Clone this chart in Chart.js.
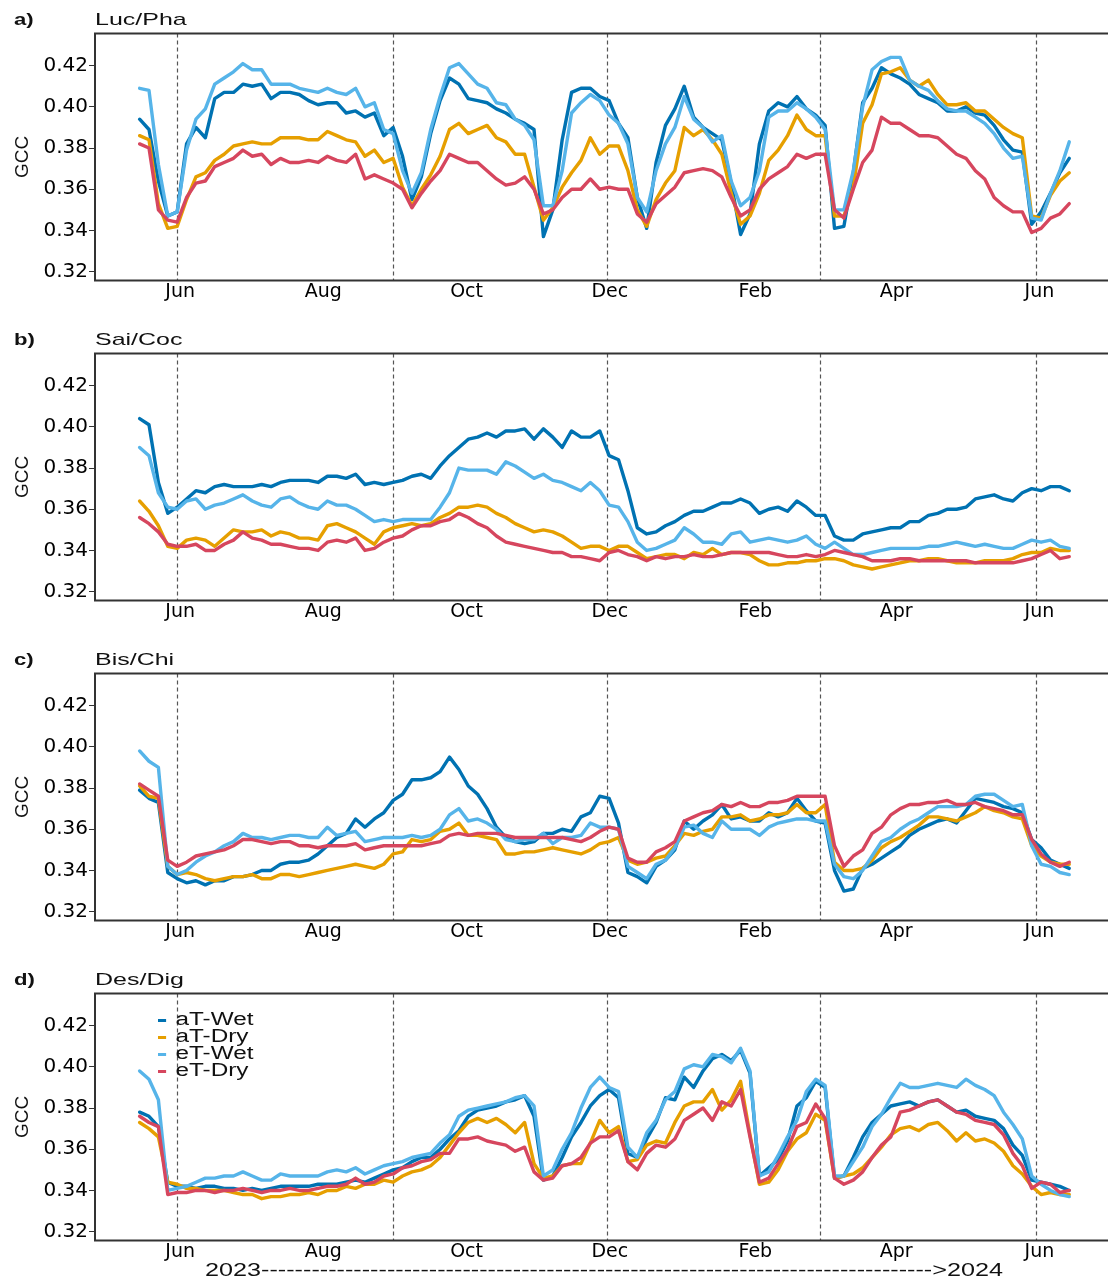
<!DOCTYPE html>
<html>
<head>
<meta charset="utf-8">
<script src="https://cdn.jsdelivr.net/npm/chart.js@4.4.1/dist/chart.umd.min.js"></script>
<style>
  html, body { margin: 0; padding: 0; background: #fff; }
  #fig { position: relative; width: 1108px; height: 1278px; overflow: hidden;
         font-family: "Liberation Sans", Arial, sans-serif; color: #111; }
  .panel { position: absolute; left: 0; width: 1108px; height: 320px; }
  .panel canvas { position: absolute; left: 0; top: 0; }
  .txt { position: absolute; white-space: nowrap; transform-origin: 0 50%; line-height: 20px; }
  .tag { font-weight: bold; font-size: 17px; }
  .ttl { font-size: 17px; }
  .legend { position: absolute; left: 158px; top: 51px; font-size: 18px; line-height: 17px; }
  .legend .row { white-space: nowrap; transform-origin: 0 50%; }
  .legend .key { display: inline-block; width: 6px; height: 3px; vertical-align: middle; margin-right: 7px; }
  .years { font-size: 18px; }
</style>
</head>
<body>
<div id="fig"></div>
<script>
// Daily GCC time series, sampled every 4 days; offsets are days from 1 Jun 2023.
const dayOffsets = [-16,-12,-8,-4,0,4,8,12,16,20,24,28,32,36,40,44,48,52,56,60,
  64,68,72,76,80,84,88,92,96,100,104,108,112,116,120,124,128,132,136,140,
  144,148,152,156,160,164,168,172,176,180,184,188,192,196,200,204,208,212,216,220,
  224,228,232,236,240,244,248,252,256,260,264,268,272,276,280,284,288,292,296,300,
  304,308,312,316,320,324,328,332,336,340,344,348,352,356,360,364,368,372,376,380];

const monthTickDays = [0, 61, 122, 183, 245, 305, 366];
const monthTickLabels = ['Jun', 'Aug', 'Oct', 'Dec', 'Feb', 'Apr', 'Jun'];
const seasonLineDays = [0, 92, 183, 274, 366];
const gccTicks = [0.32, 0.34, 0.36, 0.38, 0.40, 0.42];
const treatmentNames = ['aT-Wet', 'aT-Dry', 'eT-Wet', 'eT-Dry'];
const treatmentColors = ['#0072B2', '#E69F00', '#56B4E9', '#D6465E'];

// a) Luc/Pha
const lucAtWet = [0.394,0.389,0.364,0.347,0.349,0.382,0.390,0.385,0.404,0.407,
  0.407,0.411,0.410,0.411,0.404,0.407,0.407,0.406,0.403,0.401,
  0.402,0.402,0.397,0.398,0.395,0.397,0.386,0.390,0.376,0.355,
  0.366,0.387,0.403,0.414,0.411,0.404,0.403,0.402,0.399,0.397,
  0.394,0.392,0.389,0.337,0.350,0.384,0.407,0.409,0.409,0.405,
  0.403,0.392,0.385,0.356,0.341,0.373,0.391,0.399,0.410,0.395,
  0.390,0.387,0.384,0.363,0.338,0.348,0.382,0.398,0.402,0.400,
  0.405,0.399,0.396,0.391,0.341,0.342,0.368,0.402,0.409,0.419,
  0.416,0.414,0.411,0.406,0.404,0.402,0.398,0.398,0.400,0.397,
  0.396,0.391,0.384,0.379,0.378,0.343,0.349,0.358,0.368,0.375];
const lucAtDry = [0.386,0.384,0.353,0.341,0.342,0.355,0.366,0.368,0.374,0.377,
  0.381,0.382,0.383,0.382,0.382,0.385,0.385,0.385,0.384,0.384,
  0.388,0.386,0.384,0.383,0.376,0.379,0.373,0.375,0.361,0.352,
  0.360,0.367,0.376,0.389,0.392,0.387,0.389,0.391,0.385,0.383,
  0.377,0.377,0.361,0.345,0.351,0.361,0.368,0.374,0.385,0.377,
  0.381,0.381,0.369,0.350,0.342,0.355,0.363,0.369,0.390,0.386,
  0.389,0.384,0.377,0.358,0.343,0.347,0.358,0.374,0.379,0.386,
  0.396,0.389,0.386,0.386,0.347,0.347,0.361,0.392,0.401,0.416,
  0.417,0.419,0.413,0.410,0.413,0.406,0.401,0.401,0.402,0.398,
  0.398,0.394,0.390,0.387,0.385,0.347,0.346,0.357,0.364,0.368];
const lucEtWet = [0.409,0.408,0.372,0.347,0.349,0.379,0.394,0.399,0.411,0.414,
  0.417,0.421,0.418,0.418,0.411,0.411,0.411,0.409,0.408,0.407,
  0.409,0.407,0.406,0.409,0.400,0.402,0.389,0.387,0.369,0.358,
  0.368,0.389,0.405,0.419,0.421,0.416,0.411,0.409,0.402,0.401,
  0.394,0.391,0.384,0.352,0.352,0.369,0.397,0.402,0.406,0.403,
  0.396,0.392,0.382,0.356,0.349,0.369,0.382,0.390,0.405,0.394,
  0.390,0.383,0.386,0.364,0.352,0.356,0.369,0.395,0.398,0.398,
  0.402,0.399,0.395,0.389,0.350,0.350,0.369,0.400,0.418,0.422,
  0.424,0.424,0.413,0.410,0.408,0.403,0.399,0.398,0.398,0.395,
  0.392,0.387,0.380,0.375,0.376,0.346,0.345,0.358,0.369,0.383];
const lucEtDry = [0.382,0.380,0.350,0.345,0.344,0.356,0.363,0.364,0.371,0.373,
  0.375,0.379,0.376,0.377,0.372,0.375,0.373,0.373,0.374,0.373,
  0.376,0.374,0.373,0.377,0.365,0.367,0.365,0.363,0.360,0.351,
  0.358,0.364,0.369,0.377,0.375,0.373,0.373,0.369,0.365,0.362,
  0.363,0.366,0.360,0.348,0.350,0.356,0.360,0.360,0.365,0.360,
  0.361,0.360,0.360,0.348,0.344,0.353,0.357,0.361,0.368,0.369,
  0.370,0.369,0.366,0.356,0.347,0.350,0.360,0.365,0.368,0.371,
  0.377,0.375,0.377,0.377,0.350,0.346,0.360,0.373,0.379,0.395,
  0.392,0.392,0.389,0.386,0.386,0.385,0.381,0.377,0.375,0.369,
  0.365,0.356,0.352,0.349,0.349,0.339,0.341,0.346,0.348,0.353];

// b) Sai/Coc
const saiAtWet = [0.404,0.401,0.373,0.358,0.361,0.365,0.369,0.368,0.371,0.372,
  0.371,0.371,0.371,0.372,0.371,0.373,0.374,0.374,0.374,0.373,
  0.376,0.376,0.375,0.377,0.372,0.373,0.372,0.373,0.374,0.376,
  0.377,0.375,0.381,0.386,0.390,0.394,0.395,0.397,0.395,0.398,
  0.398,0.399,0.394,0.399,0.395,0.390,0.398,0.395,0.395,0.398,
  0.386,0.384,0.369,0.351,0.348,0.349,0.352,0.354,0.357,0.359,
  0.359,0.361,0.363,0.363,0.365,0.363,0.358,0.360,0.361,0.359,
  0.364,0.361,0.357,0.357,0.347,0.345,0.345,0.348,0.349,0.350,
  0.351,0.351,0.354,0.354,0.357,0.358,0.360,0.360,0.361,0.365,
  0.366,0.367,0.365,0.364,0.368,0.370,0.369,0.371,0.371,0.369];
const saiAtDry = [0.364,0.359,0.352,0.342,0.341,0.345,0.346,0.345,0.342,0.346,
  0.350,0.349,0.349,0.350,0.347,0.349,0.348,0.346,0.346,0.345,
  0.352,0.353,0.351,0.349,0.346,0.343,0.349,0.351,0.352,0.353,
  0.352,0.353,0.356,0.358,0.361,0.361,0.362,0.361,0.358,0.356,
  0.353,0.351,0.349,0.350,0.349,0.347,0.344,0.341,0.342,0.342,
  0.340,0.342,0.342,0.339,0.336,0.337,0.338,0.338,0.336,0.339,
  0.338,0.341,0.338,0.339,0.339,0.338,0.335,0.333,0.333,0.334,
  0.334,0.335,0.335,0.336,0.336,0.335,0.333,0.332,0.331,0.332,
  0.333,0.334,0.335,0.335,0.336,0.336,0.335,0.334,0.334,0.334,
  0.335,0.335,0.335,0.336,0.338,0.339,0.339,0.341,0.340,0.340];
const saiEtWet = [0.390,0.386,0.368,0.361,0.360,0.364,0.365,0.360,0.362,0.363,
  0.365,0.367,0.364,0.362,0.361,0.365,0.366,0.363,0.361,0.360,
  0.364,0.362,0.362,0.360,0.357,0.354,0.355,0.354,0.355,0.355,
  0.355,0.355,0.361,0.368,0.380,0.379,0.379,0.379,0.377,0.383,
  0.381,0.378,0.375,0.377,0.374,0.373,0.371,0.369,0.373,0.369,
  0.362,0.361,0.354,0.344,0.340,0.341,0.343,0.345,0.351,0.348,
  0.344,0.344,0.343,0.348,0.349,0.344,0.345,0.346,0.345,0.344,
  0.345,0.347,0.343,0.341,0.344,0.341,0.338,0.338,0.339,0.340,
  0.341,0.341,0.341,0.341,0.342,0.342,0.343,0.344,0.343,0.342,
  0.343,0.342,0.341,0.341,0.343,0.345,0.344,0.345,0.342,0.341];
const saiEtDry = [0.356,0.353,0.349,0.343,0.342,0.342,0.343,0.340,0.340,0.343,
  0.345,0.349,0.346,0.345,0.343,0.343,0.342,0.341,0.341,0.340,
  0.344,0.345,0.344,0.346,0.340,0.341,0.344,0.346,0.347,0.350,
  0.352,0.352,0.354,0.355,0.358,0.356,0.353,0.351,0.347,0.344,
  0.343,0.342,0.341,0.340,0.339,0.339,0.337,0.337,0.336,0.335,
  0.339,0.340,0.338,0.337,0.335,0.337,0.336,0.337,0.337,0.338,
  0.337,0.337,0.338,0.339,0.339,0.339,0.339,0.339,0.338,0.337,
  0.337,0.338,0.337,0.338,0.340,0.339,0.338,0.337,0.335,0.335,
  0.335,0.336,0.336,0.335,0.335,0.335,0.335,0.335,0.335,0.334,
  0.334,0.334,0.334,0.334,0.335,0.336,0.338,0.340,0.336,0.337];

// c) Bis/Chi
const bisAtWet = [0.379,0.375,0.373,0.339,0.336,0.334,0.335,0.333,0.335,0.335,
  0.337,0.337,0.338,0.340,0.340,0.343,0.344,0.344,0.345,0.348,
  0.352,0.356,0.358,0.365,0.361,0.365,0.368,0.374,0.377,0.384,
  0.384,0.385,0.388,0.395,0.389,0.381,0.377,0.370,0.361,0.356,
  0.354,0.353,0.354,0.358,0.358,0.360,0.359,0.366,0.368,0.376,
  0.375,0.363,0.339,0.337,0.334,0.342,0.345,0.350,0.364,0.360,
  0.364,0.367,0.372,0.365,0.366,0.364,0.364,0.368,0.366,0.368,
  0.375,0.369,0.364,0.363,0.340,0.330,0.331,0.341,0.343,0.346,
  0.349,0.352,0.357,0.360,0.362,0.364,0.365,0.363,0.369,0.375,
  0.374,0.373,0.371,0.370,0.368,0.355,0.351,0.345,0.343,0.341];
const bisAtDry = [0.381,0.376,0.375,0.342,0.338,0.339,0.338,0.336,0.335,0.336,
  0.337,0.337,0.338,0.336,0.336,0.338,0.338,0.337,0.338,0.339,
  0.340,0.341,0.342,0.343,0.342,0.341,0.343,0.348,0.349,0.355,
  0.354,0.355,0.359,0.360,0.363,0.357,0.357,0.356,0.355,0.348,
  0.348,0.349,0.349,0.350,0.351,0.350,0.349,0.348,0.350,0.353,
  0.354,0.356,0.345,0.343,0.344,0.346,0.347,0.352,0.358,0.357,
  0.359,0.360,0.366,0.366,0.367,0.364,0.365,0.367,0.367,0.368,
  0.372,0.368,0.368,0.372,0.344,0.340,0.340,0.341,0.345,0.351,
  0.354,0.356,0.359,0.362,0.366,0.366,0.365,0.364,0.366,0.368,
  0.371,0.369,0.368,0.366,0.365,0.352,0.347,0.344,0.343,0.343];
const bisEtWet = [0.398,0.393,0.390,0.342,0.338,0.340,0.344,0.347,0.349,0.352,
  0.354,0.358,0.356,0.356,0.355,0.356,0.357,0.357,0.356,0.356,
  0.361,0.357,0.358,0.359,0.354,0.355,0.356,0.356,0.356,0.357,
  0.356,0.357,0.360,0.367,0.370,0.364,0.365,0.363,0.360,0.355,
  0.354,0.355,0.355,0.358,0.353,0.356,0.356,0.357,0.363,0.361,
  0.361,0.360,0.342,0.339,0.336,0.343,0.345,0.351,0.361,0.362,
  0.358,0.356,0.364,0.360,0.360,0.360,0.357,0.361,0.363,0.364,
  0.365,0.365,0.364,0.364,0.343,0.337,0.336,0.340,0.347,0.354,
  0.356,0.360,0.363,0.365,0.368,0.371,0.371,0.371,0.372,0.376,
  0.377,0.377,0.374,0.371,0.372,0.352,0.343,0.342,0.339,0.338];
const bisEtDry = [0.382,0.379,0.376,0.345,0.342,0.344,0.347,0.348,0.349,0.350,
  0.352,0.355,0.355,0.354,0.353,0.354,0.354,0.352,0.352,0.351,
  0.352,0.352,0.352,0.353,0.350,0.351,0.352,0.352,0.352,0.352,
  0.352,0.353,0.354,0.357,0.358,0.357,0.358,0.358,0.358,0.357,
  0.356,0.356,0.356,0.356,0.356,0.356,0.355,0.354,0.356,0.359,
  0.361,0.360,0.346,0.344,0.344,0.349,0.351,0.354,0.364,0.366,
  0.368,0.369,0.372,0.371,0.373,0.371,0.371,0.373,0.373,0.374,
  0.376,0.376,0.376,0.376,0.352,0.342,0.347,0.350,0.358,0.361,
  0.367,0.370,0.372,0.372,0.373,0.373,0.374,0.372,0.372,0.373,
  0.371,0.370,0.369,0.367,0.367,0.355,0.348,0.344,0.342,0.344];

// d) Des/Dig
const desAtWet = [0.378,0.376,0.371,0.344,0.342,0.342,0.341,0.342,0.342,0.341,
  0.341,0.340,0.341,0.340,0.341,0.342,0.342,0.342,0.342,0.343,
  0.343,0.343,0.344,0.345,0.344,0.346,0.348,0.350,0.351,0.354,
  0.356,0.356,0.360,0.365,0.369,0.376,0.379,0.380,0.381,0.383,
  0.384,0.386,0.376,0.345,0.347,0.356,0.366,0.373,0.381,0.386,
  0.389,0.385,0.358,0.356,0.365,0.373,0.385,0.384,0.395,0.390,
  0.398,0.404,0.406,0.403,0.408,0.397,0.347,0.351,0.355,0.364,
  0.381,0.385,0.393,0.390,0.346,0.347,0.356,0.366,0.373,0.377,
  0.381,0.382,0.383,0.381,0.383,0.384,0.381,0.378,0.379,0.376,
  0.375,0.374,0.370,0.362,0.357,0.345,0.344,0.343,0.342,0.340];
const desAtDry = [0.373,0.370,0.366,0.344,0.343,0.341,0.341,0.340,0.340,0.340,
  0.339,0.338,0.338,0.336,0.337,0.337,0.338,0.338,0.339,0.338,
  0.340,0.340,0.342,0.341,0.343,0.343,0.345,0.344,0.347,0.349,
  0.350,0.352,0.356,0.362,0.368,0.373,0.375,0.373,0.375,0.372,
  0.368,0.373,0.353,0.346,0.347,0.352,0.353,0.353,0.363,0.374,
  0.368,0.371,0.354,0.355,0.362,0.364,0.363,0.373,0.381,0.383,
  0.383,0.389,0.379,0.384,0.393,0.367,0.343,0.344,0.350,0.359,
  0.365,0.368,0.377,0.374,0.346,0.347,0.348,0.351,0.356,0.361,
  0.367,0.370,0.371,0.369,0.372,0.373,0.369,0.364,0.368,0.364,
  0.365,0.363,0.359,0.352,0.348,0.342,0.338,0.339,0.338,0.338];
const desEtWet = [0.398,0.394,0.384,0.340,0.341,0.342,0.344,0.346,0.346,0.347,
  0.347,0.349,0.347,0.345,0.345,0.348,0.347,0.347,0.347,0.347,
  0.349,0.350,0.349,0.351,0.348,0.350,0.352,0.353,0.354,0.356,
  0.357,0.358,0.363,0.367,0.376,0.379,0.380,0.381,0.382,0.383,
  0.385,0.386,0.381,0.347,0.350,0.360,0.368,0.380,0.390,0.395,
  0.390,0.388,0.361,0.356,0.368,0.374,0.384,0.388,0.399,0.401,
  0.400,0.406,0.405,0.402,0.409,0.398,0.347,0.349,0.357,0.366,
  0.374,0.388,0.394,0.391,0.347,0.347,0.354,0.361,0.371,0.377,
  0.385,0.392,0.390,0.390,0.391,0.392,0.391,0.390,0.394,0.391,
  0.389,0.386,0.378,0.372,0.365,0.347,0.343,0.340,0.338,0.337];
const desEtDry = [0.376,0.373,0.371,0.338,0.339,0.339,0.340,0.340,0.339,0.340,
  0.340,0.341,0.340,0.339,0.340,0.340,0.341,0.340,0.340,0.341,
  0.342,0.342,0.343,0.346,0.343,0.344,0.347,0.348,0.351,0.352,
  0.354,0.355,0.358,0.358,0.365,0.365,0.366,0.364,0.363,0.362,
  0.359,0.361,0.349,0.345,0.346,0.352,0.353,0.356,0.363,0.366,
  0.366,0.369,0.354,0.350,0.358,0.362,0.361,0.365,0.374,0.377,
  0.380,0.374,0.383,0.381,0.389,0.366,0.344,0.346,0.353,0.360,
  0.371,0.373,0.382,0.375,0.346,0.343,0.345,0.349,0.356,0.362,
  0.366,0.378,0.379,0.381,0.383,0.384,0.381,0.378,0.377,0.374,
  0.373,0.372,0.367,0.358,0.352,0.341,0.344,0.343,0.339,0.340];

const panels = [
  { tag: 'a)', name: 'Luc/Pha', series: [lucAtWet, lucAtDry, lucEtWet, lucEtDry] },
  { tag: 'b)', name: 'Sai/Coc', series: [saiAtWet, saiAtDry, saiEtWet, saiEtDry] },
  { tag: 'c)', name: 'Bis/Chi', series: [bisAtWet, bisAtDry, bisEtWet, bisEtDry] },
  { tag: 'd)', name: 'Des/Dig', series: [desAtWet, desAtDry, desEtWet, desEtDry] }
];

// Dashed season boundaries and the open plot frame (top, left, bottom).
const frameAndSeasons = {
  id: 'frameAndSeasons',
  beforeDatasetsDraw(chart) {
    const { ctx, chartArea: a, scales: { x } } = chart;
    ctx.save();
    ctx.strokeStyle = '#555';
    ctx.lineWidth = 1.2;
    ctx.setLineDash([4, 3]);
    seasonLineDays.forEach(d => {
      const px = Math.round(x.getPixelForValue(d)) + 0.5;
      ctx.beginPath();
      ctx.moveTo(px, a.top);
      ctx.lineTo(px, a.bottom);
      ctx.stroke();
    });
    ctx.restore();
  },
  afterDraw(chart) {
    const { ctx, chartArea: a } = chart;
    ctx.save();
    ctx.strokeStyle = '#333';
    ctx.lineWidth = 2;
    ctx.beginPath();
    ctx.moveTo(a.right + 2, a.top);
    ctx.lineTo(a.left, a.top);
    ctx.lineTo(a.left, a.bottom);
    ctx.lineTo(a.right + 2, a.bottom);
    ctx.stroke();
    ctx.restore();
  }
};

const fig = document.getElementById('fig');

panels.forEach((p, k) => {
  const box = document.createElement('div');
  box.className = 'panel';
  box.style.top = (k * 320) + 'px';
  const canvas = document.createElement('canvas');
  canvas.width = 1108;
  canvas.height = 320;
  box.appendChild(canvas);

  const tag = document.createElement('div');
  tag.className = 'txt tag';
  tag.textContent = p.tag;
  tag.style.left = '14px';
  tag.style.top = '10px';
  tag.dataset.sx = '1.3';
  box.appendChild(tag);

  const ttl = document.createElement('div');
  ttl.className = 'txt ttl';
  ttl.textContent = p.name;
  ttl.style.left = '95px';
  ttl.style.top = '10px';
  ttl.dataset.sx = '1.47';
  box.appendChild(ttl);

  fig.appendChild(box);

  new Chart(canvas.getContext('2d'), {
    type: 'line',
    data: {
      datasets: p.series.map((vals, j) => ({
        label: treatmentNames[j],
        data: dayOffsets.map((d, i) => ({ x: d, y: vals[i] })),
        borderColor: treatmentColors[j],
        backgroundColor: treatmentColors[j],
        borderWidth: 3.4,
        pointRadius: 0,
        tension: 0,
        borderJoinStyle: 'round',
        borderCapStyle: 'round',
        order: 4 - j
      }))
    },
    options: {
      responsive: false,
      animation: false,
      events: [],
      layout: { padding: { top: 33.5, right: 0, bottom: 0, left: 0 } },
      scales: {
        x: {
          type: 'linear',
          min: -35,
          max: 396.5,
          afterBuildTicks: axis => { axis.ticks = monthTickDays.map(v => ({ value: v })); },
          afterFit: axis => { axis.height = 39.5; },
          ticks: {
            callback: (v, i) => monthTickLabels[i],
            autoSkip: false, maxRotation: 0, minRotation: 0,
            padding: 0,
            labelOffset: 3,
            color: '#000',
            font: { family: 'DejaVu Sans', size: 19 }
          },
          grid: { drawOnChartArea: false, drawTicks: false },
          border: { display: false }
        },
        y: {
          min: 0.3157,
          max: 0.4356,
          afterBuildTicks: axis => { axis.ticks = gccTicks.map(v => ({ value: v })); },
          afterFit: axis => { axis.width = 95; },
          ticks: {
            callback: v => v.toFixed(2),
            padding: 1,
            color: '#000',
            font: { family: 'DejaVu Sans', size: 20 }
          },
          grid: { drawOnChartArea: false, drawTicks: true, tickLength: 6, color: '#333' },
          border: { display: false },
          title: {
            display: true,
            text: 'GCC',
            color: '#111',
            padding: { top: 11, bottom: 0 },
            font: { family: 'Liberation Sans', size: 19 }
          }
        }
      },
      plugins: { legend: { display: false }, tooltip: { enabled: false } }
    },
    plugins: [frameAndSeasons]
  });

  if (k === 3) {
    const lg = document.createElement('div');
    lg.className = 'legend';
    treatmentNames.forEach((n, j) => {
      const row = document.createElement('div');
      row.className = 'row';
      row.dataset.sx = '1.35';
      const key = document.createElement('span');
      key.className = 'key';
      key.style.background = treatmentColors[j];
      row.appendChild(key);
      row.appendChild(document.createTextNode(n));
      lg.appendChild(row);
    });
    box.appendChild(lg);

    const yr = document.createElement('div');
    yr.className = 'txt years';
    yr.textContent = '2023' + '-'.repeat(80) + '>2024';
    yr.style.left = '205px';
    yr.style.top = '300px';
    yr.dataset.fit = '798';
    box.appendChild(yr);
  }
});

// Wide lettering: stretch text horizontally.
document.querySelectorAll('[data-sx]').forEach(el => {
  el.style.display = 'block';
  el.style.transform = 'scaleX(' + el.dataset.sx + ')';
});
document.querySelectorAll('[data-fit]').forEach(el => {
  el.style.display = 'inline-block';
  const w = el.getBoundingClientRect().width;
  el.style.transform = 'scaleX(' + (Number(el.dataset.fit) / w) + ')';
});
</script>
</body>
</html>
